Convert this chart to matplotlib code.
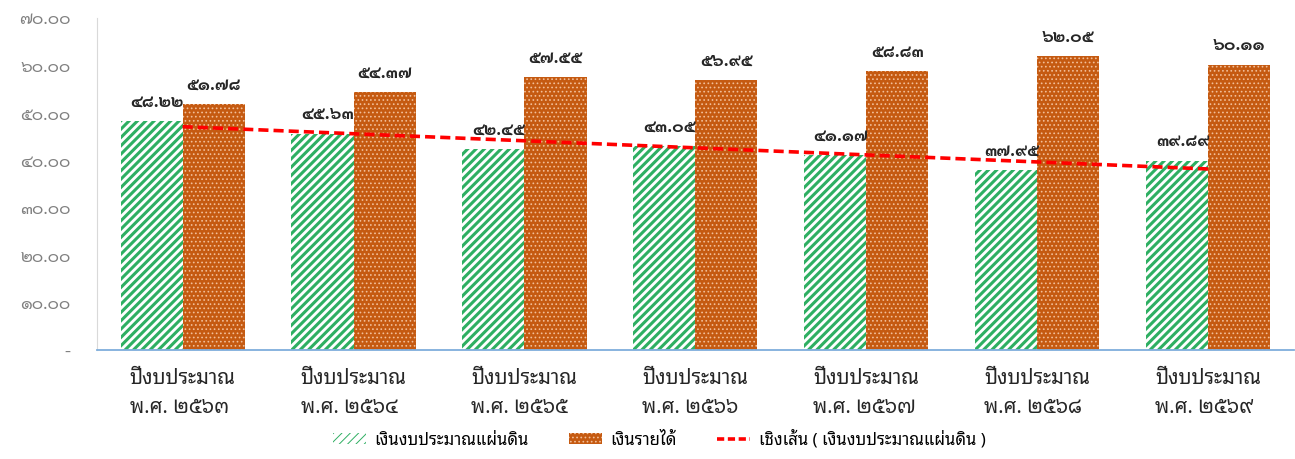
import numpy as np
import matplotlib
matplotlib.use("Agg")
import matplotlib.pyplot as plt
from matplotlib.patches import Patch
from matplotlib.lines import Line2D

# ข้อมูล (หน่วย: ร้อยละ)
years = ["๒๕๖๓", "๒๕๖๔", "๒๕๖๕", "๒๕๖๖", "๒๕๖๗", "๒๕๖๘", "๒๕๖๙"]
state_budget = [48.22, 45.63, 42.45, 43.05, 41.17, 37.95, 39.89]
income = [51.78, 54.37, 57.55, 56.95, 58.83, 62.05, 60.11]
y_ticks = [0, 10, 20, 30, 40, 50, 60, 70]
series_names = ["เงินงบประมาณแผ่นดิน", "เงินรายได้", "เชิงเส้น ( เงินงบประมาณแผ่นดิน )"]

THAI_DIGITS = str.maketrans("0123456789", "๐๑๒๓๔๕๖๗๘๙")


def thai_num(v):
    return "{:.2f}".format(v).translate(THAI_DIGITS)


text_font = ["Noto Sans Thai Looped", "DejaVu Sans"]
num_font = ["Sarabun", "DejaVu Sans"]
green = "#2EAF62"
orange = "#C55A11"
dots = "#F2BE98"

plt.rcParams["font.family"] = text_font

fig = plt.figure(figsize=(12.95, 4.59), dpi=100)
ax = fig.add_axes([0.075, 0.2375, 0.924, 0.7233])

x = np.arange(len(years))
w = 0.363

plt.rcParams["hatch.linewidth"] = 2.2
bars1 = ax.bar(x - w / 2, state_budget, w, facecolor="white", edgecolor=green,
               hatch="////", linewidth=0)
plt.rcParams["hatch.linewidth"] = 0.7
bars2 = ax.bar(x + w / 2, income, w, facecolor=orange, edgecolor=dots,
               hatch="....", linewidth=0)

# เส้นแนวโน้มเชิงเส้น
coef = np.polyfit(x, state_budget, 1)
trend = np.polyval(coef, x)
ax.plot(x, trend, color="#FF0000", linestyle=(0, (2.8, 1.4)), linewidth=2.6, zorder=5)

for xi, v in zip(x, state_budget):
    ax.annotate(thai_num(v), (xi - w / 2, v), xytext=(4, 7.5), textcoords="offset points",
                ha="center", va="bottom", fontsize=12.5, fontweight="bold",
                family=num_font, color="#262626")
for xi, v in zip(x, income):
    ax.annotate(thai_num(v), (xi + w / 2, v), xytext=(0, 7.5), textcoords="offset points",
                ha="center", va="bottom", fontsize=12.5, fontweight="bold",
                family=num_font, color="#262626")

ax.set_xlim(-0.5, len(years) - 0.5)
ax.set_ylim(0, 70)
ax.set_yticks(y_ticks)
ax.set_yticklabels(["-"] + [thai_num(t) for t in y_ticks[1:]], family=num_font,
                   fontsize=12.5, color="#808080")
ax.set_xticks(x)
ax.set_xticklabels(["ปีงบประมาณ\nพ.ศ. " + y for y in years], fontsize=14.5,
                   linespacing=1.55, multialignment="left", color="#262626")
ax.tick_params(axis="both", length=0)
ax.tick_params(axis="x", pad=14)
ax.tick_params(axis="y", pad=19)

for s in ["top", "right"]:
    ax.spines[s].set_visible(False)
ax.spines["left"].set_color("#D9D9D9")
ax.spines["bottom"].set_color("#7FAEDC")
ax.spines["bottom"].set_linewidth(1.3)

plt.rcParams["hatch.linewidth"] = 2.0
h1 = Patch(facecolor="white", edgecolor=green, hatch="////", linewidth=0)
plt.rcParams["hatch.linewidth"] = 0.7
h2 = Patch(facecolor=orange, edgecolor=dots, hatch="....", linewidth=0)
h3 = Line2D([0], [0], color="#FF0000", linestyle=(0, (2, 1)), linewidth=2.6)
fig.legend([h1, h2, h3], series_names, loc="lower center", bbox_to_anchor=(0.509, -0.01),
           ncol=3, frameon=False, fontsize=12, handlelength=2.0, handleheight=0.6,
           handletextpad=0.5, columnspacing=2.4)

fig.savefig("out.png")
